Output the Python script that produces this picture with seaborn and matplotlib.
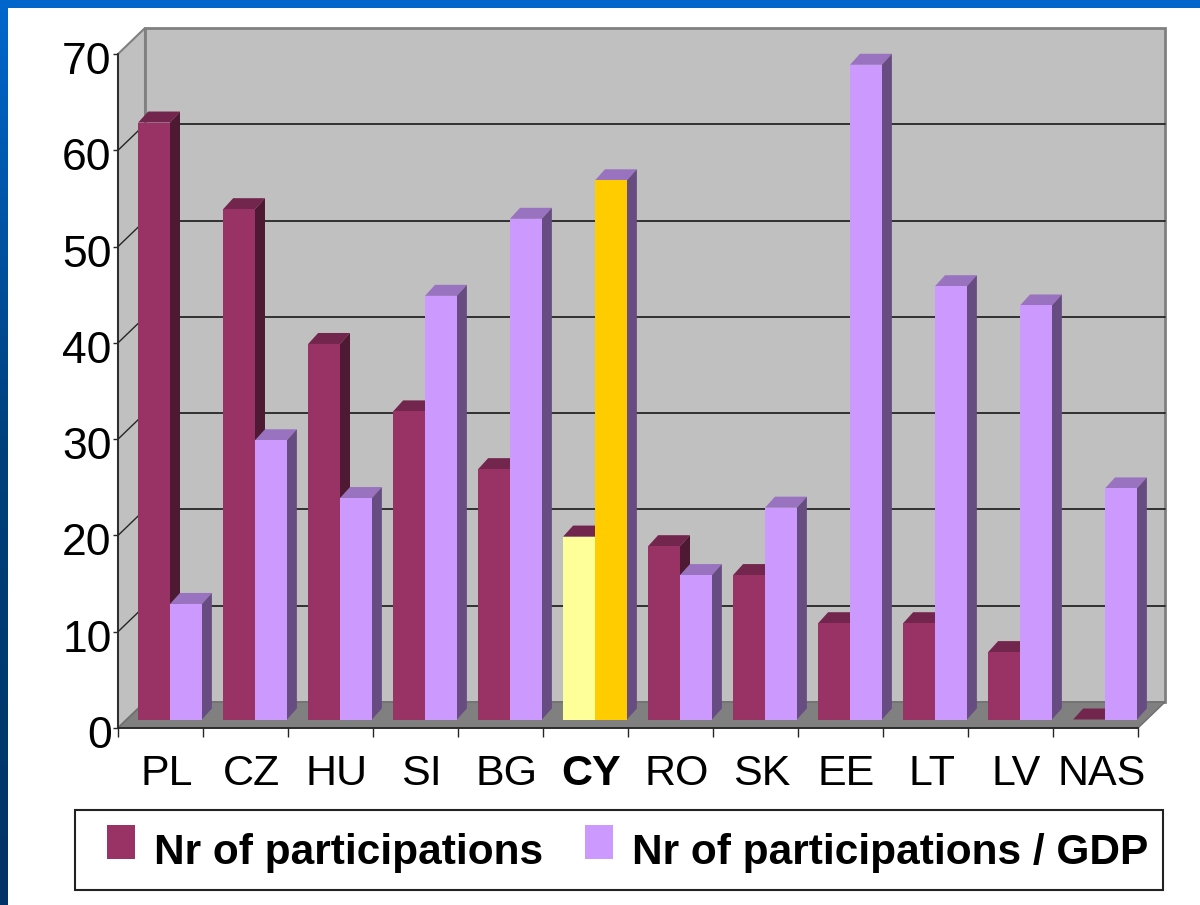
import numpy as np
import pandas as pd
import seaborn as sns
import matplotlib.pyplot as plt
from matplotlib.patches import Polygon, Rectangle
from matplotlib.lines import Line2D
from matplotlib.transforms import ScaledTranslation, IdentityTransform
from matplotlib.legend_handler import HandlerPatch
from matplotlib.colors import LinearSegmentedColormap

# data
countries = ["PL", "CZ", "HU", "SI", "BG", "CY", "RO", "SK", "EE", "LT", "LV", "NAS"]
participations = [62, 53, 39, 32, 26, 19, 18, 15, 10, 10, 7, 0]
per_gdp = [12, 29, 23, 44, 52, 56, 15, 22, 68, 45, 43, 24]
series_names = ["Nr of participations", "Nr of participations / GDP"]
highlight = "CY"
yticks = list(range(0, 71, 10))

# colours: front, top, side
FRONT = ["#993366", "#CC99FF"]
TOP = ["#73264D", "#9973BF"]
SIDE = ["#4D1933", "#664C80"]
HL_FRONT = ["#FFFF99", "#FFCC00"]

df = pd.DataFrame({
    "country": countries * 2,
    "value": participations + per_gdp,
    "series": [series_names[0]] * len(countries) + [series_names[1]] * len(countries),
})

sns.set_theme(style="white")
plt.rcParams["font.family"] = ["Liberation Sans", "DejaVu Sans"]
plt.rcParams["text.color"] = "black"

W, H = 1200, 905
fig = plt.figure(figsize=(W / 100, H / 100), dpi=100)
fig.patch.set_facecolor("white")

# front plane of the 3d box
ax = fig.add_axes([118 / W, 1 - 728 / H, (1138 - 118) / W, (728 - 54) / H])
ax.set_facecolor("none")

sns.barplot(data=df, x="country", y="value", hue="series", palette=FRONT,
            width=0.75, saturation=1, legend=False, ax=ax, zorder=3)
ax.set_xlim(-0.5, len(countries) - 0.5)
ax.set_ylim(0, 70)
ax.set_autoscale_on(False)
ax.set_xlabel("")
ax.set_ylabel("")

WALL = (27, 26)   # depth of the box in pixels
BOFF = (9.5, 8.5)  # bars sit a bit behind the front plane
BDEP = (10, 11)   # depth of one bar


def px(x, y, d=(0, 0)):
    a, b = ax.transData.transform((x, y))
    return a + d[0], b + d[1]


def poly(pts, fc, ec="none", lw=0, z=1):
    p = Polygon(pts, closed=True, facecolor=fc, edgecolor=ec, linewidth=lw,
                transform=IdentityTransform(), clip_on=False, zorder=z)
    ax.add_patch(p)


def line(p0, p1, c, lw, z=1.2):
    ln = Line2D([p0[0], p1[0]], [p0[1], p1[1]], color=c, linewidth=lw,
                transform=IdentityTransform(), clip_on=False, zorder=z)
    ax.add_line(ln)


x0, x1 = -0.5, len(countries) - 0.5
# back wall, left wall, floor
poly([px(x0, 0, WALL), px(x1, 0, WALL), px(x1, 70, WALL), px(x0, 70, WALL)],
     "#C0C0C0", "#808080", 2, z=0.5)
poly([px(x0, 0), px(x0, 0, WALL), px(x0, 70, WALL), px(x0, 70)],
     "#C0C0C0", "#808080", 1.5, z=0.6)
poly([px(x0, 0), px(x1, 0), px(x1, 0, WALL), px(x0, 0, WALL)],
     "#808080", "#6E6E6E", 1, z=0.7)

for v in yticks[1:-1]:
    line(px(x0, v, WALL), px(x1, v, WALL), "#262626", 1.3)
    line(px(x0, v), px(x0, v, WALL), "#262626", 1.0)

# 3d faces of the bars
shift = ScaledTranslation(BOFF[0] / 100, BOFF[1] / 100, fig.dpi_scale_trans)
hl = countries.index(highlight)
for ci, cont in enumerate(ax.containers):
    for j, bar in enumerate(cont):
        bar.set_transform(ax.transData + shift)
        bar.set_clip_on(False)
        bar.set_edgecolor("none")
        if j == hl:
            bar.set_facecolor(HL_FRONT[ci])
        bx, bw, bh = bar.get_x(), bar.get_width(), bar.get_height()
        l, b = px(bx, 0, BOFF)
        r, t = px(bx + bw, bh, BOFF)
        poly([(l, t), (r, t), (r + BDEP[0], t + BDEP[1]), (l + BDEP[0], t + BDEP[1])],
             TOP[ci], z=2.5)
        poly([(r, b), (r, t), (r + BDEP[0], t + BDEP[1]), (r + BDEP[0], b + BDEP[1])],
             SIDE[ci], z=2.5)

# axes
for s in ["top", "right"]:
    ax.spines[s].set_visible(False)
for s in ["left", "bottom"]:
    ax.spines[s].set_color("#262626")
    ax.spines[s].set_linewidth(1.3)
    ax.spines[s].set_zorder(4)

ax.set_yticks(yticks)
ax.set_yticklabels([str(v) for v in yticks])
ax.tick_params(axis="y", labelsize=32, length=3.6, width=1, pad=1,
               color="#262626", labelcolor="black", left=True)
ylab_shift = ScaledTranslation(0, -4 / 100, fig.dpi_scale_trans)
for lab in ax.get_yticklabels():
    lab.set_transform(lab.get_transform() + ylab_shift)

ax.set_xticks(range(len(countries)))
ax.set_xticklabels(countries)
ax.set_xticks(np.arange(len(countries) + 1) - 0.5, minor=True)
ax.tick_params(axis="x", which="major", length=0, labelsize=31, pad=18.5,
               labelcolor="black")
ax.tick_params(axis="x", which="minor", length=6.5, width=1, color="#262626",
               bottom=True, direction="out")
lab_shift = ScaledTranslation(6 / 100, 0, fig.dpi_scale_trans)
for lab in ax.get_xticklabels():
    lab.set_transform(lab.get_transform() + lab_shift)
    if lab.get_text() == highlight:
        lab.set_fontweight("bold")
ax.grid(False)


# legend with small squares sitting a little above the text baseline
def square(legend, orig_handle, xdescent, ydescent, width, height, fontsize):
    sw, sh = 28 * 0.72, 34 * 0.72
    return Rectangle((-xdescent + width - sw, 3.6), sw, sh)


handles = [Rectangle((0, 0), 1, 1, facecolor=c, edgecolor="none") for c in FRONT]
leg = fig.legend(handles, series_names, ncol=2, mode="expand", loc="center",
                 bbox_to_anchor=(75 / W, 1 - 890 / H, (1163 - 75) / W, 80 / H),
                 bbox_transform=fig.transFigure, borderaxespad=0, borderpad=0.34,
                 prop={"size": 30.5, "weight": "bold"}, handlelength=1.08,
                 handleheight=1.5, handletextpad=0.45, frameon=True,
                 fancybox=False, framealpha=1, edgecolor="#222222",
                 handler_map={Rectangle: HandlerPatch(patch_func=square)})
leg.get_frame().set_linewidth(1.5)
for txt in leg.get_texts():
    txt.set_color("black")

# blue frame of the slide
fig.patches.append(Rectangle((0, 1 - 8.5 / H), 1, 8.5 / H, transform=fig.transFigure,
                             facecolor="#0066CC", edgecolor="none", zorder=10))
gax = fig.add_axes([0, 0, 8 / W, 1 - 8.5 / H])
cmap = LinearSegmentedColormap.from_list("side", ["#0066CC", "#00407A", "#003366"])
gax.imshow(np.linspace(0, 1, 256).reshape(-1, 1), cmap=cmap, aspect="auto")
gax.set_axis_off()

fig.savefig("out.png", dpi=100)
